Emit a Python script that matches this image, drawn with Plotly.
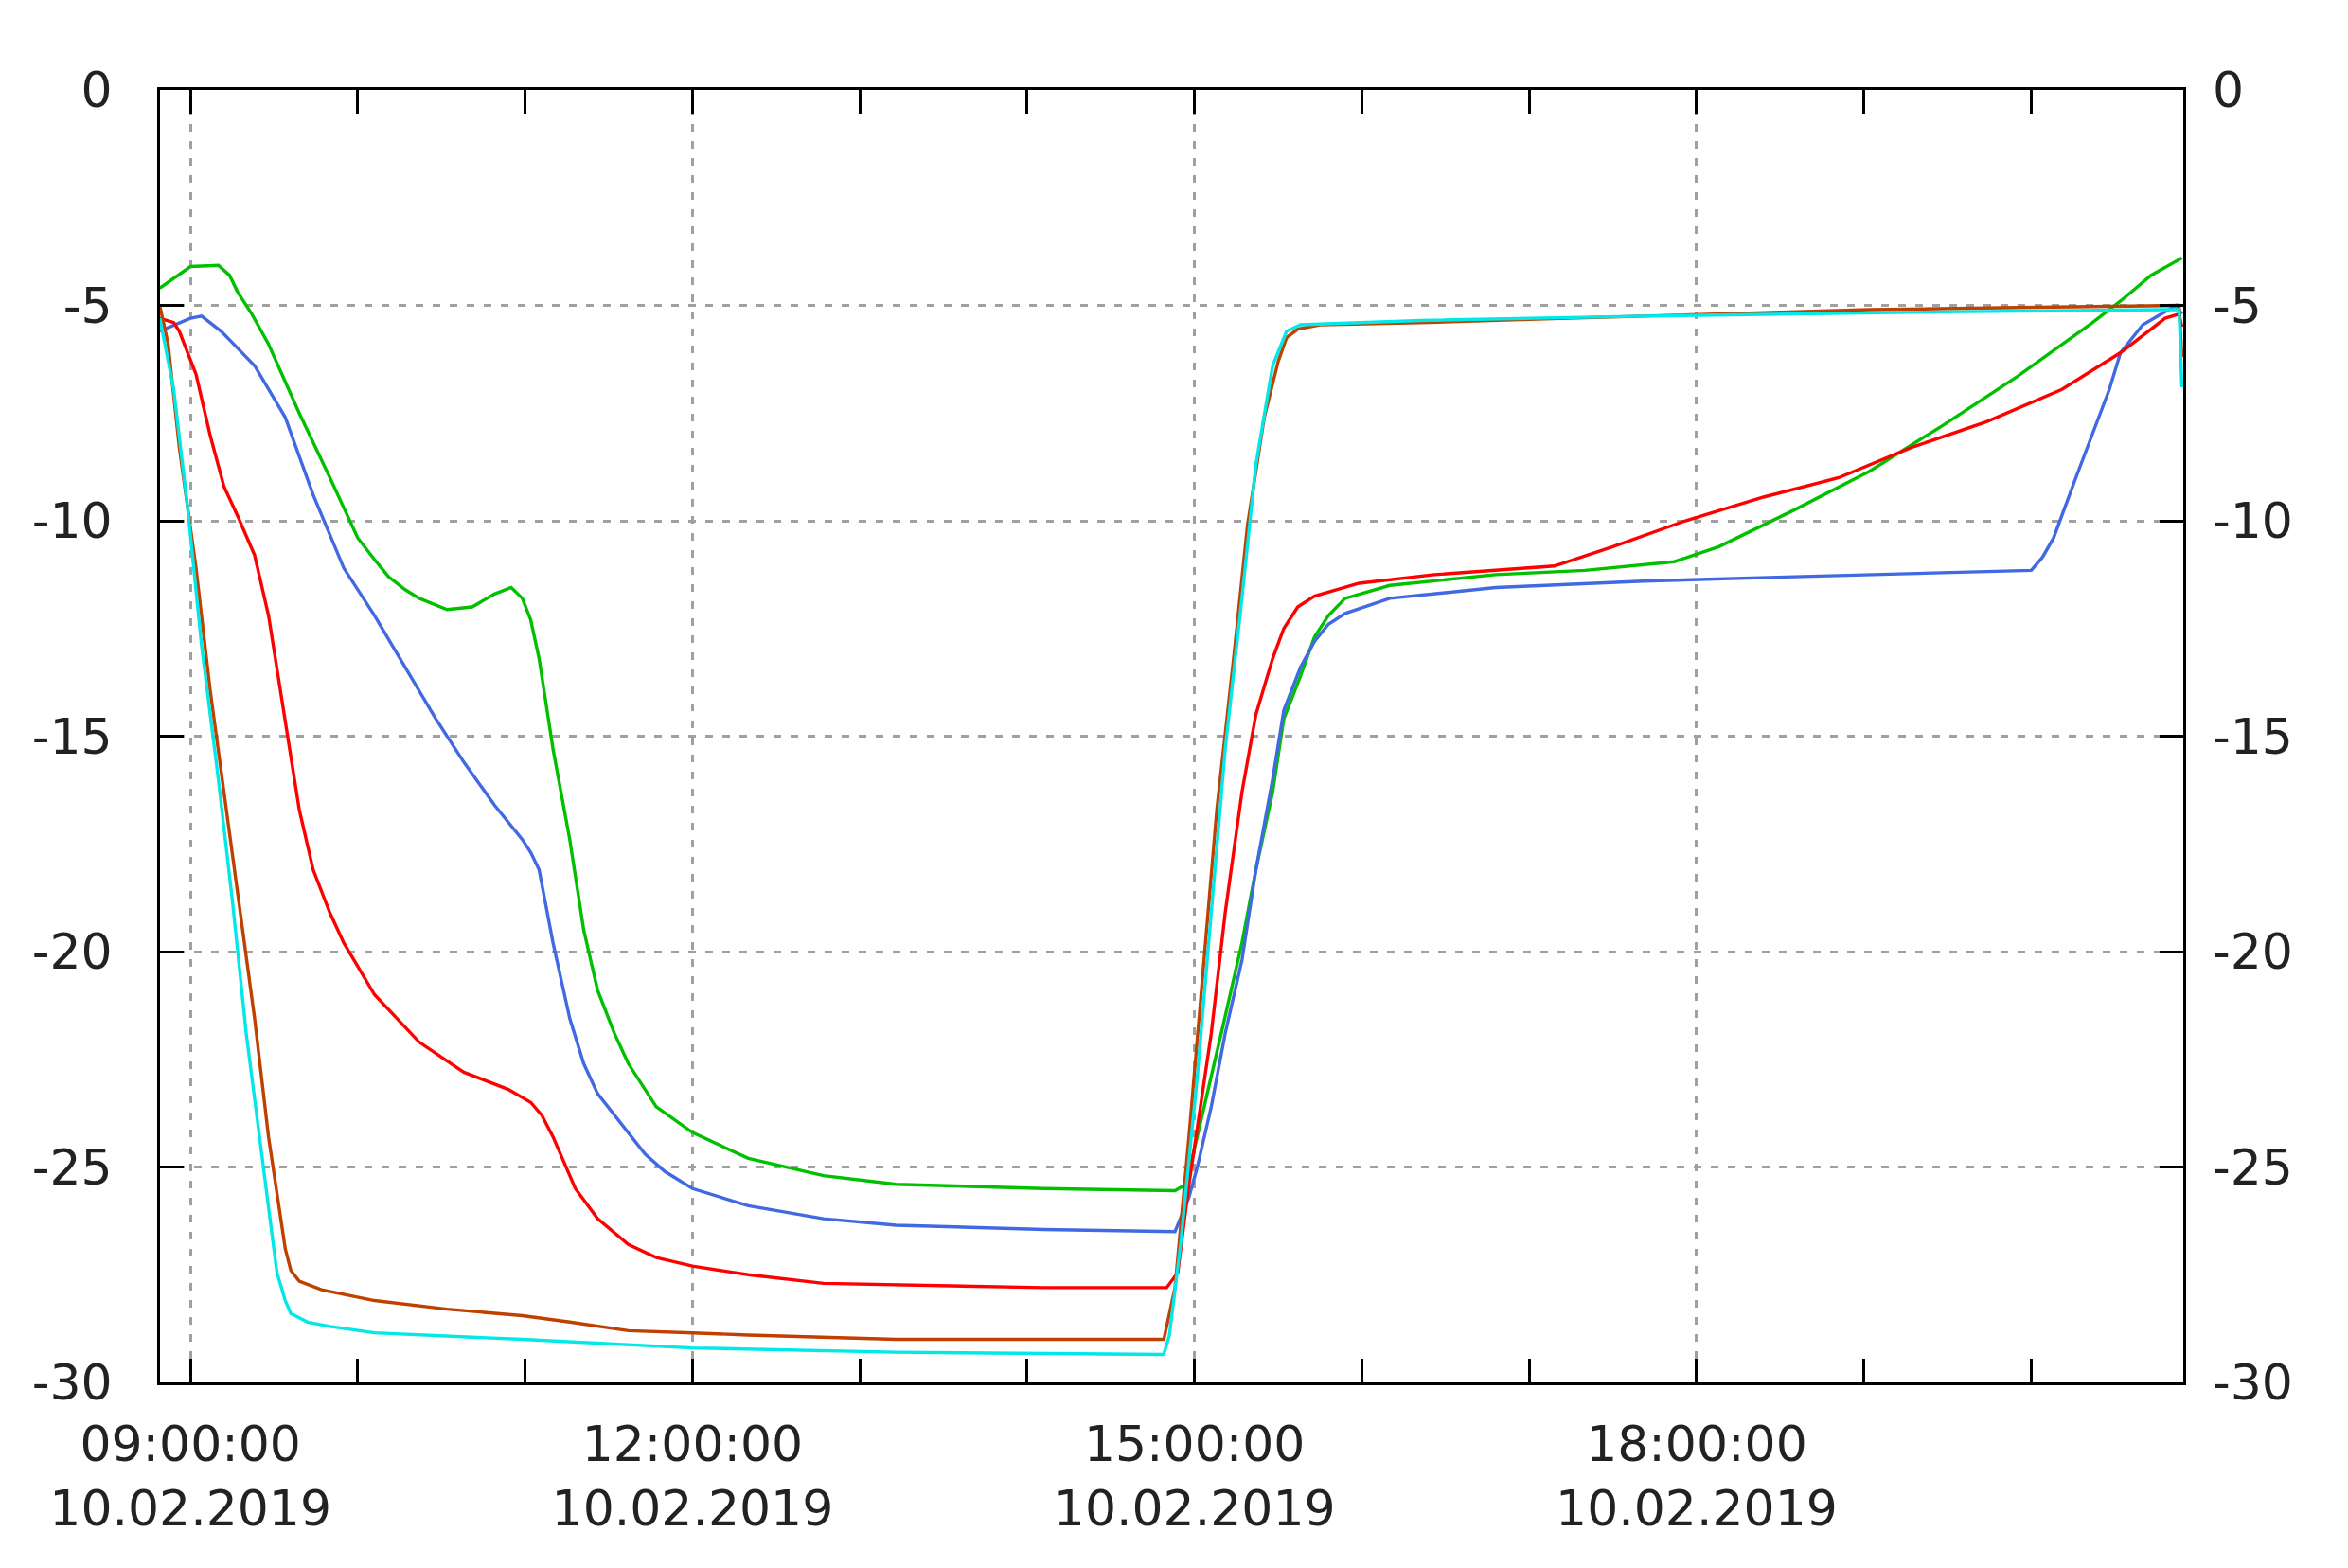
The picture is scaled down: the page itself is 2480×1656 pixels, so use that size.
import plotly.graph_objects as go

DAY = "2019-02-10 "

# ---- data (time HH:MM, value) ----
green_t = ["08:49","09:00","09:10","09:14","09:17","09:22","09:28","09:39","09:50","10:00","10:06","10:11","10:17","10:22","10:32","10:41","10:49","10:55","10:59","11:02","11:05","11:10","11:16","11:21","11:26","11:32","11:37","11:47","12:00","12:20","12:47","13:13","14:06","14:53","14:57","15:01","15:06","15:11","15:17","15:22","15:28","15:32","15:38","15:43","15:48","15:54","16:10","16:48","17:20","17:52","18:08","18:35","19:02","19:28","19:55","20:22","20:32","20:43","20:54"]
green_v = [-4.6,-4.1,-4.07,-4.3,-4.7,-5.2,-5.9,-7.5,-9.0,-10.4,-10.9,-11.3,-11.6,-11.8,-12.06,-12.0,-11.7,-11.55,-11.8,-12.3,-13.2,-15.3,-17.4,-19.5,-20.9,-21.9,-22.6,-23.6,-24.2,-24.8,-25.2,-25.4,-25.5,-25.55,-25.4,-24.3,-22.9,-21.5,-19.8,-18.1,-16.3,-14.6,-13.6,-12.7,-12.2,-11.8,-11.5,-11.25,-11.15,-10.95,-10.6,-9.75,-8.85,-7.8,-6.65,-5.4,-4.9,-4.3,-3.9]

blue_t = ["08:49","09:00","09:04","09:11","09:23","09:34","09:44","09:55","10:06","10:17","10:28","10:38","10:49","10:59","11:02","11:05","11:10","11:16","11:21","11:26","11:32","11:43","11:50","12:00","12:20","12:47","13:13","14:06","14:53","14:58","15:01","15:06","15:11","15:17","15:22","15:28","15:32","15:38","15:43","15:48","15:54","16:10","16:48","17:41","18:35","19:28","20:00","20:04","20:08","20:16","20:22","20:28","20:32","20:40","20:48","20:52","20:54"]
blue_v = [-5.6,-5.3,-5.25,-5.6,-6.4,-7.6,-9.4,-11.1,-12.2,-13.4,-14.6,-15.6,-16.6,-17.4,-17.7,-18.1,-19.8,-21.55,-22.6,-23.3,-23.8,-24.7,-25.1,-25.5,-25.9,-26.2,-26.35,-26.45,-26.5,-25.7,-25.0,-23.6,-21.9,-20.2,-18.1,-16.0,-14.4,-13.4,-12.8,-12.4,-12.15,-11.8,-11.55,-11.4,-11.3,-11.2,-11.15,-10.85,-10.4,-9.0,-8.0,-6.95,-6.1,-5.45,-5.15,-5.0,-5.2]

red_t = ["08:49","08:54","08:56","09:02","09:07","09:12","09:17","09:23","09:28","09:34","09:39","09:44","09:50","09:55","10:06","10:22","10:38","10:54","11:02","11:06","11:10","11:18","11:26","11:37","11:47","12:00","12:20","12:47","14:06","14:50","14:54","14:58","15:06","15:11","15:17","15:22","15:28","15:32","15:37","15:43","15:59","16:26","17:09","17:30","17:56","18:24","18:51","19:17","19:44","20:11","20:32","20:48","20:53","20:54"]
red_v = [-5.3,-5.4,-5.6,-6.6,-8.0,-9.2,-9.9,-10.8,-12.2,-14.6,-16.7,-18.1,-19.1,-19.8,-21.0,-22.1,-22.8,-23.2,-23.5,-23.8,-24.3,-25.5,-26.2,-26.8,-27.1,-27.3,-27.5,-27.7,-27.8,-27.8,-27.45,-25.4,-21.9,-19.1,-16.3,-14.5,-13.2,-12.5,-12.0,-11.75,-11.45,-11.25,-11.05,-10.6,-10.0,-9.45,-9.0,-8.3,-7.7,-6.95,-6.1,-5.3,-5.2,-5.5]

brown_t = ["08:49","08:52","08:56","09:02","09:07","09:12","09:17","09:23","09:28","09:34","09:36","09:39","09:47","10:06","10:32","10:59","11:16","11:37","12:00","12:20","13:13","14:06","14:49","14:53","14:58","15:03","15:08","15:14","15:19","15:25","15:30","15:33","15:37","15:45","16:21","17:14","18:08","19:02","19:55","20:48","20:53","20:54"]
brown_v = [-5.0,-5.9,-8.3,-11.1,-13.9,-16.3,-18.8,-21.55,-24.3,-26.9,-27.4,-27.65,-27.85,-28.1,-28.3,-28.45,-28.6,-28.8,-28.85,-28.9,-29.0,-29.0,-29.0,-27.8,-24.3,-20.5,-16.7,-13.2,-10.1,-7.6,-6.3,-5.75,-5.55,-5.45,-5.4,-5.3,-5.2,-5.1,-5.05,-5.0,-5.0,-6.2]

cyan_t = ["08:49","08:54","08:59","09:04","09:10","09:15","09:20","09:26","09:31","09:34","09:36","09:42","09:50","10:06","10:59","12:00","13:13","14:49","14:51","14:55","15:01","15:06","15:11","15:17","15:22","15:28","15:31","15:33","15:38","16:21","17:41","19:28","20:48","20:53","20:54"]
cyan_v = [-5.3,-6.95,-9.7,-12.9,-16.0,-18.8,-21.9,-25.0,-27.45,-28.1,-28.4,-28.6,-28.7,-28.85,-29.0,-29.2,-29.3,-29.35,-28.9,-26.8,-22.9,-19.1,-15.3,-11.8,-8.7,-6.4,-5.9,-5.6,-5.45,-5.35,-5.25,-5.15,-5.1,-5.1,-6.9]

series = [
    ("green", green_t, green_v, "#00c000"),
    ("blue", blue_t, blue_v, "#4169e1"),
    ("red", red_t, red_v, "#ff0000"),
    ("brown", brown_t, brown_v, "#c04000"),
    ("cyan", cyan_t, cyan_v, "#00e8e8"),
]

x_tick_times = ["09:00", "12:00", "15:00", "18:00"]
x_tick_labels = ["09:00:00<br>10.02.2019", "12:00:00<br>10.02.2019",
                 "15:00:00<br>10.02.2019", "18:00:00<br>10.02.2019"]
x_minor_times = ["09:00","10:00","11:00","12:00","13:00","14:00","15:00",
                 "16:00","17:00","18:00","19:00","20:00"]
y_ticks = [0, -5, -10, -15, -20, -25, -30]
y_tick_labels = ["0", "-5", "-10", "-15", "-20", "-25", "-30"]
x_range = ["08:49:05", "20:54:30"]
y_range = [-30, 0]

FONT = dict(family="DejaVu Sans", size=52, color="#222222")

fig = go.Figure()
for name, t, v, c in series:
    fig.add_trace(go.Scatter(x=[DAY + s for s in t], y=v, mode="lines", name=name,
                             line=dict(color=c, width=3.4)))

# invisible trace for right y axis
fig.add_trace(go.Scatter(x=[DAY + x_range[0]], y=[y_range[0]], yaxis="y2",
                         mode="markers", marker=dict(opacity=0), showlegend=False,
                         hoverinfo="skip"))

fig.update_layout(
    width=2480, height=1656,
    paper_bgcolor="white", plot_bgcolor="white",
    showlegend=False,
    margin=dict(l=169, r=174, t=95, b=196),
    font=FONT,
    xaxis=dict(
        type="date",
        range=[DAY + x_range[0], DAY + x_range[1]],
        tickmode="array",
        tickvals=[DAY + s for s in x_tick_times],
        ticktext=x_tick_labels,
        ticks="inside", ticklen=25, tickwidth=3, tickcolor="black",
        showline=True, linecolor="black", linewidth=3, mirror="allticks",
        showgrid=True, gridcolor="#a0a0a0", gridwidth=3, griddash="8px,10px",
        zeroline=False,
        ticklabelstandoff=18,
        minor=dict(tickmode="array", tickvals=[DAY + s for s in x_minor_times],
                   ticks="inside", ticklen=13, tickwidth=3, tickcolor="black",
                   showgrid=False),
        tickfont=FONT,
    ),
    yaxis=dict(
        range=y_range,
        tickmode="array", tickvals=y_ticks, ticktext=y_tick_labels,
        ticks="inside", ticklen=25, tickwidth=3, tickcolor="black",
        showline=True, linecolor="black", linewidth=3, mirror="allticks",
        showgrid=True, gridcolor="#a0a0a0", gridwidth=3, griddash="8px,10px",
        zeroline=False,
        ticklabelstandoff=37,
        tickfont=FONT,
    ),
    yaxis2=dict(
        range=y_range, overlaying="y", side="right",
        tickmode="array", tickvals=y_ticks, ticktext=y_tick_labels,
        ticks="", showline=False, showgrid=False, zeroline=False,
        ticklabelstandoff=30,
        tickfont=FONT,
    ),
)

fig.write_html("out.html", config={"displayModeBar": False},
               post_script="document.body.style.margin='0';")
